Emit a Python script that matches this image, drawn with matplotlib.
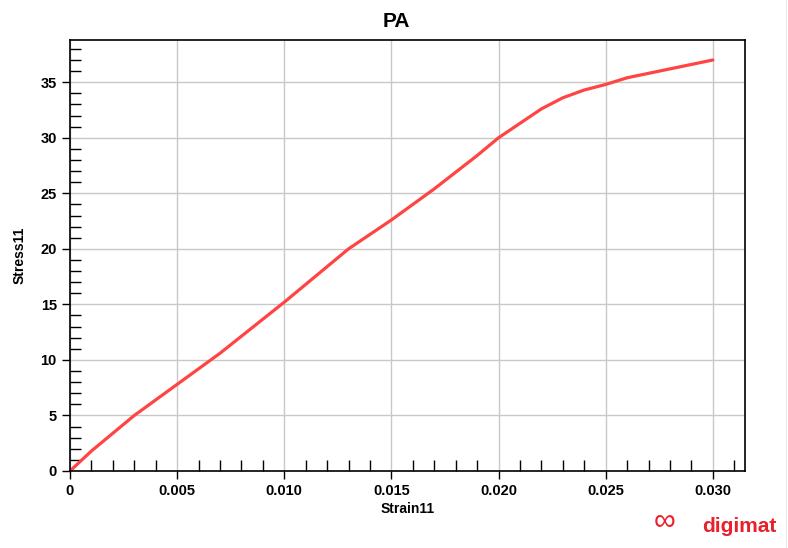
import numpy as np
import matplotlib.pyplot as plt
from matplotlib.ticker import MultipleLocator

# stress-strain curve, PA
strain = [0.0, 0.001, 0.003, 0.005, 0.007, 0.010, 0.013, 0.015, 0.017, 0.019,
          0.020, 0.021, 0.022, 0.023, 0.024, 0.025, 0.026, 0.027, 0.028, 0.029, 0.030]
stress = [0.0, 1.8, 5.0, 7.8, 10.6, 15.2, 20.0, 22.6, 25.4, 28.4,
          30.0, 31.3, 32.6, 33.6, 34.3, 34.8, 35.4, 35.8, 36.2, 36.6, 37.0]

xticks = [0, 0.005, 0.010, 0.015, 0.020, 0.025, 0.030]
xlabels = ["0", "0.005", "0.010", "0.015", "0.020", "0.025", "0.030"]
yticks = [0, 5, 10, 15, 20, 25, 30, 35]

plt.rcParams['font.family'] = ['Liberation Sans', 'DejaVu Sans']

fig = plt.figure(figsize=(7.88, 5.48), dpi=100)
ax = fig.add_axes([70/788, 1-471/548, 675/788, 431/548])

ax.plot(strain, stress, color='#ff4444', lw=2.3, solid_capstyle='round')

ax.set_xlim(0, 0.0315)
ax.set_ylim(0, 38.8)
ax.set_xticks(xticks)
ax.set_xticklabels(xlabels)
ax.set_yticks(yticks)
ax.xaxis.set_minor_locator(MultipleLocator(0.001))
ax.yaxis.set_minor_locator(MultipleLocator(1))

ax.tick_params(which='major', direction='out', length=6, width=1, labelsize=10.5)
ax.tick_params(which='minor', direction='in', length=8, width=1)
for lab in ax.get_xticklabels() + ax.get_yticklabels():
    lab.set_fontweight('bold')

ax.grid(True, which='major', color='#c8c8c8', lw=1)
ax.set_axisbelow(True)
for s in ax.spines.values():
    s.set_linewidth(1.2)

# title centred on the whole figure
fig.text(396/788, 1-27/548, "PA", fontsize=15, fontweight='bold',
         ha='center', va='baseline')
ax.set_xlabel("Strain11", fontsize=10, fontweight='bold', labelpad=3)
ax.set_ylabel("Stress11", fontsize=10, fontweight='bold', labelpad=10)

# faint frame edge on the right
fig.add_artist(plt.Line2D([786/788, 786/788], [0, 1], color='#ececec', lw=1))

# logo text
fig.text(0.985, 0.022, "digimat", color='#e8202a', fontsize=15,
         fontweight='bold', ha='right', va='bottom')
fig.text(0.83, 0.022, "\u221e", color='#e8202a', fontsize=22,
         ha='left', va='bottom')

fig.savefig("out.png", dpi=100)
